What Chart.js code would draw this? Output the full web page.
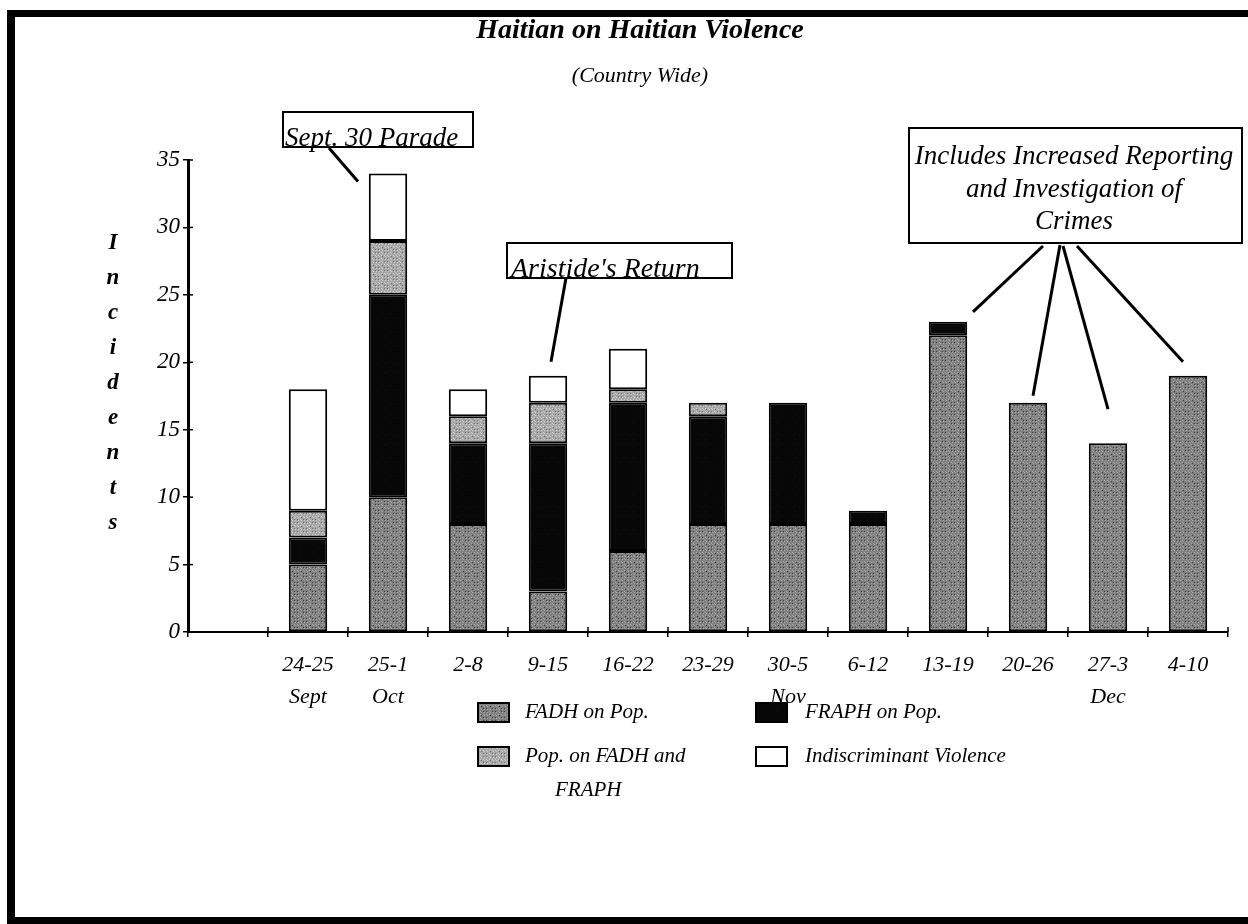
<!DOCTYPE html>
<html>
<head>
<meta charset="utf-8">
<script src="https://cdn.jsdelivr.net/npm/chart.js@4.4.1/dist/chart.umd.min.js"></script>
<style>
  html, body { margin: 0; padding: 0; background: #fff; }
  #wrap { width: 1248px; height: 924px; position: relative; }
</style>
</head>
<body>
<div id="wrap"><canvas id="violenceChart" width="1248" height="924"></canvas></div>
<script>
// ====== Data ======
const weeks = ["", ["24-25", "Sept"], ["25-1", "Oct"], "2-8", "9-15", "16-22", "23-29",
  ["30-5", "Nov"], "6-12", "13-19", "20-26", ["27-3", "Dec"], "4-10"];
const fadhOnPop      = [0, 5, 10, 8, 3, 6, 8, 8, 8, 22, 17, 14, 19];
const fraphOnPop     = [0, 2, 15, 6, 11, 11, 8, 9, 1, 1, 0, 0, 0];
const popOnFadhFraph = [0, 2, 4, 2, 3, 1, 1, 0, 0, 0, 0, 0, 0];
const indiscriminant = [0, 9, 5, 2, 2, 3, 0, 0, 0, 0, 0, 0, 0];
const yTicks = [0, 5, 10, 15, 20, 25, 30, 35];

const SERIF = "'Liberation Serif', 'DejaVu Serif', serif";

// ====== Stipple fills (scanned look) ======
function stipple(base, dark, light) {
  const c = document.createElement("canvas");
  c.width = 9; c.height = 9;
  const g = c.getContext("2d");
  g.fillStyle = base;
  g.fillRect(0, 0, 9, 9);
  for (let yy = 0; yy < 9; yy++) {
    for (let xx = 0; xx < 9; xx++) {
      const h = (xx * 7 + yy * 13 + xx * yy) % 6;
      if (h === 0) { g.fillStyle = dark; g.fillRect(xx, yy, 1, 1); }
      if (h === 3 && light) { g.fillStyle = light; g.fillRect(xx, yy, 1, 1); }
    }
  }
  return g.createPattern(c, "repeat");
}

const fadhFill = stipple("#7f7f7f", "#3c3c3c", "#a8a8a8");
const fraphFill = stipple("#080808", "#000000", null);
const popFill = stipple("#a6a6a6", "#707070", "#cfcfcf");

const seriesInfo = [
  { label: "FADH on Pop.", data: fadhOnPop, fill: fadhFill },
  { label: "FRAPH on Pop.", data: fraphOnPop, fill: fraphFill },
  { label: ["Pop. on FADH and", "FRAPH"], data: popOnFadhFraph, fill: popFill },
  { label: "Indiscriminant Violence", data: indiscriminant, fill: "#ffffff" },
];

function totalAt(i) {
  return fadhOnPop[i] + fraphOnPop[i] + popOnFadhFraph[i] + indiscriminant[i];
}

// ====== Decorations: frame, titles, axis label, legend, callouts ======
const decorations = {
  id: "decorations",
  afterDraw(chart) {
    const ctx = chart.ctx;
    const xs = chart.scales.x, ys = chart.scales.y;
    const area = chart.chartArea;
    ctx.save();

    // frame
    ctx.fillStyle = "#000";
    ctx.fillRect(7, 10, 1241, 7);
    ctx.fillRect(7, 10, 8, 914);
    ctx.fillRect(7, 917, 1241, 7);

    // inner halves of the axis ticks
    ctx.strokeStyle = "#000";
    ctx.lineWidth = 1.5;
    const step = (area.right - area.left) / weeks.length;
    for (let k = 1; k <= weeks.length; k++) {
      const px = area.left + k * step;
      ctx.beginPath();
      ctx.moveTo(px, area.bottom);
      ctx.lineTo(px, area.bottom - 5);
      ctx.stroke();
    }
    yTicks.forEach((v) => {
      const py = ys.getPixelForValue(v);
      ctx.beginPath();
      ctx.moveTo(area.left, py);
      ctx.lineTo(area.left + 5, py);
      ctx.stroke();
    });

    // titles
    ctx.fillStyle = "#000";
    ctx.textAlign = "center";
    ctx.textBaseline = "middle";
    ctx.font = "bold italic 28px " + SERIF;
    ctx.fillText("Haitian on Haitian Violence", 640, 31);
    ctx.font = "italic 22px " + SERIF;
    ctx.fillText("(Country Wide)", 640, 76);

    // vertical axis label
    ctx.font = "bold italic 23px " + SERIF;
    "Incidents".split("").forEach((ch, i) => {
      ctx.fillText(ch, 113, 243 + i * 35);
    });

    // legend
    const legendPos = [
      { bx: 478, tx: 525, y: 712 },
      { bx: 756, tx: 805, y: 712 },
      { bx: 478, tx: 525, y: 756 },
      { bx: 756, tx: 805, y: 756 },
    ];
    ctx.textAlign = "left";
    ctx.font = "italic 21px " + SERIF;
    seriesInfo.forEach((s, i) => {
      const p = legendPos[i];
      ctx.fillStyle = s.fill;
      ctx.fillRect(p.bx, p.y - 9, 31, 19);
      ctx.strokeStyle = "#000";
      ctx.lineWidth = 2;
      ctx.strokeRect(p.bx, p.y - 9, 31, 19);
      ctx.fillStyle = "#000";
      if (Array.isArray(s.label)) {
        ctx.fillText(s.label[0], p.tx, p.y);
        ctx.fillText(s.label[1], p.tx + 30, p.y + 34);
      } else {
        ctx.fillText(s.label, p.tx, p.y);
      }
    });

    // callouts
    const cx = (i) => xs.getPixelForValue(i);
    const top = (i) => ys.getPixelForValue(totalAt(i));
    function box(x, y, w, h) {
      ctx.fillStyle = "#fff";
      ctx.fillRect(x, y, w, h);
      ctx.strokeStyle = "#000";
      ctx.lineWidth = 2;
      ctx.strokeRect(x, y, w, h);
    }
    function leader(x1, y1, x2, y2) {
      ctx.strokeStyle = "#000";
      ctx.lineWidth = 3;
      ctx.beginPath();
      ctx.moveTo(x1, y1);
      ctx.lineTo(x2, y2);
      ctx.stroke();
    }

    box(283, 112, 190, 35);
    ctx.fillStyle = "#000";
    ctx.textAlign = "left";
    ctx.textBaseline = "alphabetic";
    ctx.font = "italic 27px " + SERIF;
    ctx.fillText("Sept. 30 Parade", 285, 146);
    leader(329, 148, cx(2) - 30, top(2) + 8);

    box(507, 243, 225, 35);
    ctx.fillStyle = "#000";
    ctx.font = "italic 28px " + SERIF;
    ctx.fillText("Aristide's Return", 511, 277);
    leader(566, 278, cx(4) + 3, top(4) - 14);

    box(909, 128, 333, 115);
    ctx.fillStyle = "#000";
    ctx.textAlign = "center";
    ctx.textBaseline = "middle";
    ctx.font = "italic 27px " + SERIF;
    ctx.fillText("Includes Increased Reporting", 1074, 157);
    ctx.fillText("and Investigation of", 1074, 190);
    ctx.fillText("Crimes", 1074, 222);
    leader(1043, 246, cx(9) + 25, top(9) - 10);
    leader(1060, 245, cx(10) + 5, top(10) - 7);
    leader(1063, 246, cx(11), top(11) - 34);
    leader(1077, 246, cx(12) - 5, top(12) - 14);

    ctx.restore();
  },
};

// ====== Chart ======
const ctxEl = document.getElementById("violenceChart");
new Chart(ctxEl, {
  type: "bar",
  data: {
    labels: weeks,
    datasets: seriesInfo.map((s) => ({
      label: Array.isArray(s.label) ? s.label.join(" ") : s.label,
      data: s.data.map((v) => (v ? v : null)),
      backgroundColor: s.fill,
      borderColor: "#000",
      borderWidth: 2,
      borderSkipped: false,
      barPercentage: 0.48,
      categoryPercentage: 1,
    })),
  },
  options: {
    responsive: false,
    animation: false,
    events: [],
    layout: { padding: { left: 88, right: 20, top: 160, bottom: 112 } },
    plugins: {
      legend: { display: false },
      title: { display: false },
      tooltip: { enabled: false },
    },
    scales: {
      x: {
        stacked: true,
        afterFit: (s) => { s.height = 180; },
        border: { display: true, color: "#000", width: 2 },
        grid: {
          display: true, drawOnChartArea: false, drawTicks: true,
          tickLength: 5, color: "#000", lineWidth: 1.5, offset: true,
        },
        ticks: {
          color: "#000",
          padding: 12,
          maxRotation: 0,
          autoSkip: false,
          font: { family: SERIF, size: 22, style: "italic", lineHeight: 1.45 },
        },
      },
      y: {
        stacked: true,
        min: 0,
        max: 35,
        afterFit: (s) => { s.width = 100; },
        afterBuildTicks: (s) => { s.ticks = yTicks.map((v) => ({ value: v })); },
        border: { display: true, color: "#000", width: 3 },
        grid: {
          display: true, drawOnChartArea: false, drawTicks: true,
          tickLength: 5, color: "#000", lineWidth: 1.5,
        },
        ticks: {
          color: "#000",
          padding: 3,
          font: { family: SERIF, size: 23, style: "italic" },
        },
      },
    },
  },
  plugins: [decorations],
});
</script>
</body>
</html>
